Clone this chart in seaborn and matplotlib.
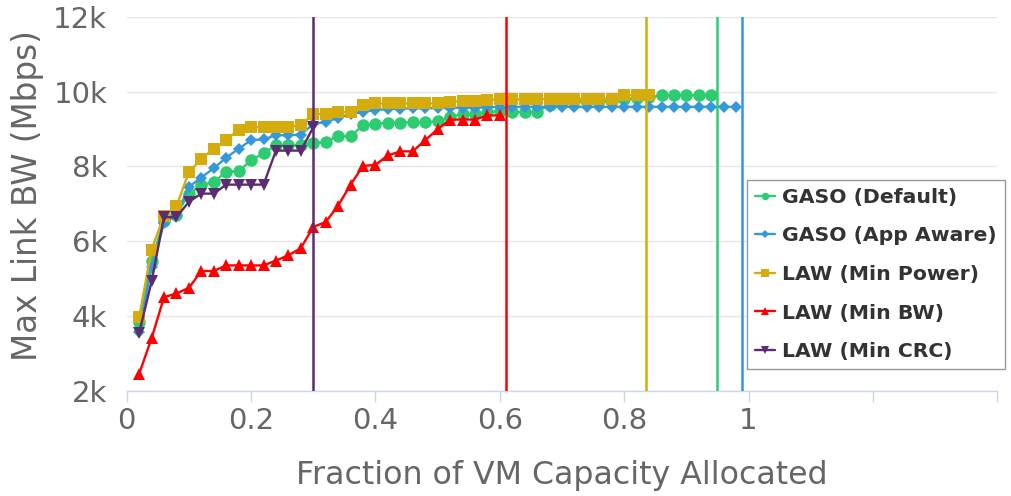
import matplotlib
matplotlib.use('Agg')
import matplotlib.pyplot as plt
import seaborn as sns
import pandas as pd
from matplotlib.ticker import FuncFormatter

# fraction of VM capacity allocated (x positions shared by all series)
frac = [0.02, 0.04, 0.06, 0.08, 0.10, 0.12, 0.14, 0.16, 0.18, 0.20,
        0.22, 0.24, 0.26, 0.28, 0.30, 0.32, 0.34, 0.36, 0.38, 0.40,
        0.42, 0.44, 0.46, 0.48, 0.50, 0.52, 0.54, 0.56, 0.58, 0.60,
        0.62, 0.64, 0.66, 0.68, 0.70, 0.72, 0.74, 0.76, 0.78, 0.80,
        0.82, 0.84, 0.86, 0.88, 0.90, 0.92, 0.94, 0.96, 0.98]

# max link bandwidth (Mbps) per series
gaso_default = [3850, 5480, 6550, 6700, 7270, 7490, 7580, 7850, 7870, 8160,
                8350, 8560, 8560, 8580, 8620, 8650, 8820, 8800, 9100, 9140,
                9160, 9170, 9180, 9180, 9200, 9330, 9390, 9400, 9450, 9480,
                9450, 9450, 9450, 9640, 9700, 9740, 9740, 9740, 9740, 9800,
                9820, 9840, 9900, 9900, 9900, 9900, 9900]
gaso_app = [3560, 5300, 6480, 6700, 7450, 7700, 7950, 8230, 8470, 8700,
            8720, 8830, 8830, 8850, 9130, 9180, 9300, 9400, 9450, 9510,
            9530, 9540, 9550, 9550, 9560, 9560, 9570, 9570, 9580, 9590,
            9590, 9590, 9590, 9590, 9590, 9590, 9590, 9590, 9590, 9590,
            9590, 9590, 9590, 9590, 9590, 9590, 9590, 9590, 9590]
law_power = [3960, 5770, 6680, 6930, 7850, 8200, 8470, 8700, 8980, 9050,
             9050, 9050, 9050, 9100, 9400, 9400, 9450, 9450, 9630, 9680,
             9680, 9680, 9680, 9680, 9680, 9720, 9750, 9750, 9780, 9790,
             9790, 9790, 9790, 9810, 9810, 9810, 9810, 9810, 9810, 9900,
             9900, 9900]
law_bw = [2450, 3400, 4500, 4600, 4750, 5200, 5200, 5350, 5350, 5350,
          5350, 5480, 5620, 5810, 6380, 6510, 6950, 7510, 8010, 8040,
          8290, 8400, 8400, 8700, 8990, 9250, 9250, 9250, 9360, 9360]
law_crc = [3540, 4920, 6640, 6640, 7050, 7270, 7270, 7510, 7510, 7510,
           7510, 8420, 8420, 8420, 9040]

# capacity limit reached by each scheme
limits = [0.95, 0.99, 0.835, 0.61, 0.30]

names = ['GASO (Default)', 'GASO (App Aware)', 'LAW (Min Power)', 'LAW (Min BW)', 'LAW (Min CRC)']
colors = ['#2ecc71', '#3498db', '#d4ac0d', '#ff0000', '#5b2c6f']
markers = ['o', 'D', 's', '^', 'v']
msizes = [9, 6.5, 8.5, 9, 9]
values = [gaso_default, gaso_app, law_power, law_bw, law_crc]

sns.set_theme(style='white')
plt.rcParams['font.family'] = ['DejaVu Sans']

fig = plt.figure(figsize=(10.12, 4.96), dpi=100)
ax = fig.add_axes([0.1252, 0.2123, 0.8603, 0.754])

for i, (name, vals) in enumerate(zip(names, values)):
    df = pd.DataFrame({'frac': frac[:len(vals)], 'bw': vals})
    sns.lineplot(data=df, x='frac', y='bw', ax=ax, color=colors[i], marker=markers[i],
                 markersize=msizes[i], markeredgewidth=0, linewidth=1.7,
                 label=name, zorder=3 + i)

for lim, c in zip(limits, colors):
    ax.axvline(lim, color=c, linewidth=1.8, zorder=9)

ax.set_xlim(0, 1.4)
ax.set_ylim(2000, 12000)
ax.set_xticks([0, 0.2, 0.4, 0.6, 0.8, 1.0, 1.2, 1.4])
ax.set_xticklabels(['0', '0.2', '0.4', '0.6', '0.8', '1', '', ''])
ax.set_yticks([2000, 4000, 6000, 8000, 10000, 12000])
ax.yaxis.set_major_formatter(FuncFormatter(lambda v, p: f'{int(v / 1000)}k'))

ax.grid(axis='y', color='#e6e6e6', linewidth=1)
ax.grid(axis='x', visible=False)
for s in ['top', 'right', 'left']:
    ax.spines[s].set_visible(False)
ax.spines['bottom'].set_color('#ccd6eb')
ax.spines['bottom'].set_linewidth(1)

ax.tick_params(axis='x', length=8, width=1, color='#ccd6eb', direction='out',
               pad=4, labelsize=21, labelcolor='#666666', bottom=True)
ax.tick_params(axis='y', length=0, pad=14, labelsize=21, labelcolor='#666666')

ax.set_xlabel('Fraction of VM Capacity Allocated', fontsize=22.8, color='#666666', labelpad=18)
ax.set_ylabel('Max Link BW (Mbps)', fontsize=23.5, color='#666666', labelpad=7, y=0.523)

leg = ax.legend(loc='upper left', bbox_to_anchor=(747 / 1012, 1 - 180 / 496),
                bbox_transform=fig.transFigure, borderaxespad=0, frameon=True,
                fancybox=False, edgecolor='#999999', framealpha=1,
                prop={'weight': 'bold', 'size': 14.7}, labelcolor='#333333',
                handlelength=1.0, handletextpad=0.35, labelspacing=0.96,
                borderpad=0.38, markerscale=0.6)
leg.get_frame().set_linewidth(1.0)
leg.set_zorder(20)

fig.savefig('out.png', dpi=100)
